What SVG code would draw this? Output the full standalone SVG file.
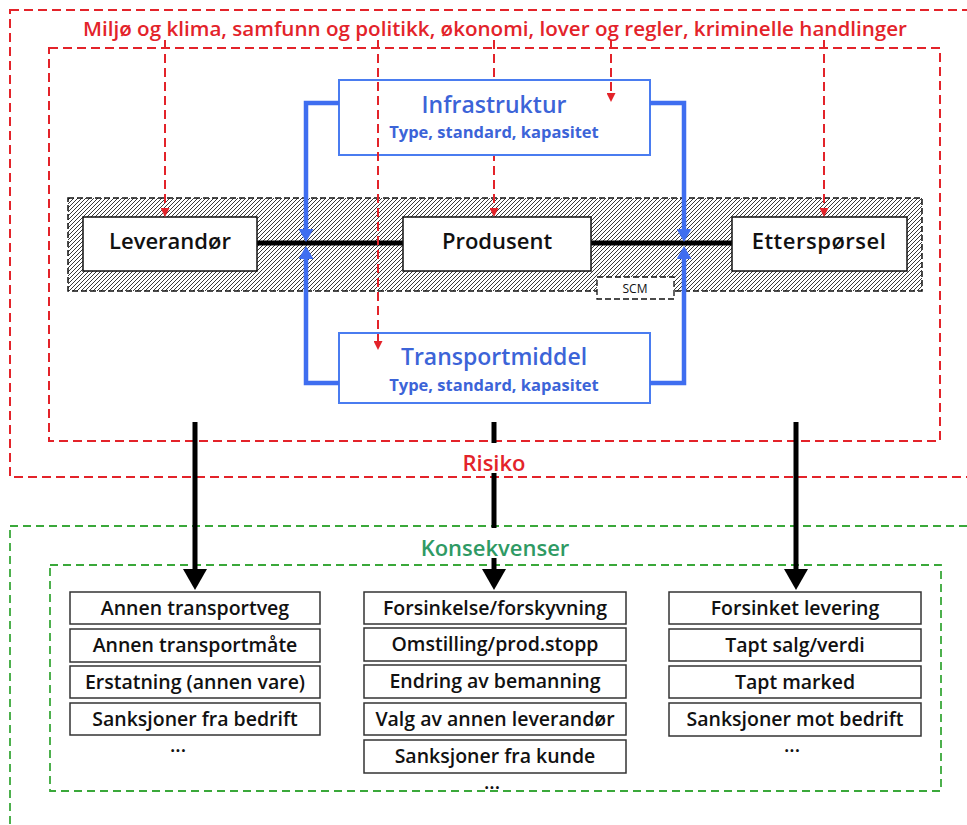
<svg xmlns="http://www.w3.org/2000/svg" width="967" height="825" viewBox="0 0 967 825">
<style>
  .f { font-family: "Open Sans", "Liberation Sans", sans-serif; }
  .reddash { fill: none; stroke: #e3232a; stroke-width: 2; stroke-dasharray: 9 5; }
  .greendash { fill: none; stroke: #3aa83a; stroke-width: 1.8; stroke-dasharray: 8 5; }
  .redarrow { fill: none; stroke: #e3232a; stroke-width: 2; stroke-dasharray: 9 5; marker-end: url(#ra); }
  .blue { fill: none; stroke: #3f6ef0; stroke-width: 4.5; stroke-linejoin: miter; marker-end: url(#ba); }
  .blk { stroke: #000; stroke-width: 5; fill: none; }
  .blkarr { stroke: #000; stroke-width: 5; fill: none; marker-end: url(#ka); }
  .node { fill: #fff; stroke: #111; stroke-width: 1.5; }
  .bbox { fill: #fff; stroke: #4a7cf0; stroke-width: 2; }
  .item { fill: #fff; stroke: #333; stroke-width: 1.5; }
  .nt { font-size: 22px; font-weight: 600; fill: #111; text-anchor: middle; }
  .it { font-size: 19.5px; font-weight: 600; fill: #111; text-anchor: middle; }
  .bt { font-size: 23px; font-weight: 600; fill: #3c64d8; text-anchor: middle; }
  .bs { font-size: 16.5px; font-weight: 700; fill: #3c64d8; text-anchor: middle; }
</style>
<defs>
  <pattern id="hatch" patternUnits="userSpaceOnUse" width="4" height="4">
    <rect width="4" height="4" fill="#fff"/>
    <path d="M-1,1 l2,-2 M0,4 l4,-4 M3,5 l2,-2" stroke="#222" stroke-width="0.9"/>
  </pattern>
  <marker id="ra" markerUnits="userSpaceOnUse" markerWidth="9" markerHeight="9" refX="0" refY="4.5" orient="auto" viewBox="0 0 9 9">
    <path d="M0,0 L9,4.5 L0,9 z" fill="#e3232a"/>
  </marker>
  <marker id="ba" markerUnits="userSpaceOnUse" markerWidth="13" markerHeight="15" refX="0" refY="7.5" orient="auto" viewBox="0 0 13 15">
    <path d="M0,0 L13,7.5 L0,15 z" fill="#3f6ef0"/>
  </marker>
  <marker id="ka" markerUnits="userSpaceOnUse" markerWidth="21" markerHeight="24" refX="0" refY="12" orient="auto" viewBox="0 0 21 24">
    <path d="M0,0 L21,12 L0,24 z" fill="#000"/>
  </marker>
</defs>
<rect width="967" height="825" fill="#fff"/>

<g id="frames">
  <rect class="reddash" x="10" y="10" width="970" height="467"/>
  <rect class="reddash" x="49" y="48" width="891" height="393"/>
  <rect class="greendash" x="10" y="526" width="970" height="310"/>
  <rect class="greendash" x="50" y="565" width="891" height="226"/>
  <rect id="scm-band" x="68" y="198" width="854" height="93" fill="url(#hatch)" stroke="#111" stroke-width="1.5" stroke-dasharray="6 3"/>
</g>

<g id="connectors-under">
  <line class="blk" x1="257" y1="243" x2="403" y2="243" stroke-width="6"/>
  <line class="blk" x1="591" y1="243" x2="732" y2="243" stroke-width="6"/>
  <line class="redarrow" x1="494" y1="40" x2="494" y2="208"/>
</g>

<g id="leverandor">
  <rect class="node" x="83" y="217" width="174" height="54"/>
  <text class="f nt" x="170" y="249">Leverandør</text>
</g>
<g id="produsent">
  <rect class="node" x="403" y="217" width="188" height="54"/>
  <text class="f nt" x="497" y="249">Produsent</text>
</g>
<g id="ettersporsel">
  <rect class="node" x="732" y="217" width="175" height="54"/>
  <text class="f nt" x="819" y="249" letter-spacing="0.5">Etterspørsel</text>
</g>
<g id="scm">
  <rect x="597" y="277" width="77" height="22" fill="#fff" stroke="#111" stroke-width="1.3" stroke-dasharray="6 3"/>
  <text class="f" x="635" y="293" font-size="12" text-anchor="middle" fill="#111">SCM</text>
</g>
<g id="infrastruktur">
  <rect class="bbox" x="339" y="80" width="311" height="75"/>
  <text class="f bt" x="494" y="113">Infrastruktur</text>
  <text class="f bs" x="494" y="138">Type, standard, kapasitet</text>
</g>
<g id="transportmiddel">
  <rect class="bbox" x="339" y="333" width="311" height="70"/>
  <text class="f bt" x="494" y="365">Transportmiddel</text>
  <text class="f bs" x="494" y="391">Type, standard, kapasitet</text>
</g>

<g id="connectors">
  <polyline class="blue" points="339,103 306,103 306,229"/>
  <polyline class="blue" points="650,103 684,103 684,229"/>
  <polyline class="blue" points="339,383 306,383 306,259"/>
  <polyline class="blue" points="650,383 684,383 684,259"/>
  <line class="redarrow" x1="165" y1="40" x2="165" y2="208"/>
  <line class="redarrow" x1="378" y1="40" x2="378" y2="341"/>
  <line class="redarrow" x1="611" y1="40" x2="611" y2="93"/>
  <line class="redarrow" x1="824" y1="40" x2="824" y2="208"/>
  <line class="blkarr" x1="195" y1="422" x2="195" y2="569"/>
  <line class="blk" x1="494" y1="422" x2="494" y2="443"/>
  <line class="blk" x1="494" y1="473" x2="494" y2="528"/>
  <line class="blkarr" x1="494" y1="558" x2="494" y2="569"/>
  <line class="blkarr" x1="796" y1="422" x2="796" y2="569"/>
</g>

<g id="labels">
  <text class="f" x="495" y="36" font-size="20" font-weight="600" fill="#e3232a" text-anchor="middle" textLength="824" lengthAdjust="spacingAndGlyphs">Miljø og klima, samfunn og politikk, økonomi, lover og regler, kriminelle handlinger</text>
  <text class="f" x="494" y="471" font-size="22" font-weight="600" fill="#e3232a" text-anchor="middle">Risiko</text>
  <text class="f" x="495" y="556" font-size="22" font-weight="600" fill="#2f9a64" text-anchor="middle">Konsekvenser</text>
</g>

<g id="col1">
  <g id="c1-1"><rect class="item" x="70" y="592" width="250" height="32"/><text class="f it" x="195" y="615">Annen transportveg</text></g>
  <g id="c1-2"><rect class="item" x="70" y="629" width="250" height="33"/><text class="f it" x="195" y="652">Annen transportmåte</text></g>
  <g id="c1-3"><rect class="item" x="70" y="666" width="250" height="32"/><text class="f it" x="195" y="689">Erstatning (annen vare)</text></g>
  <g id="c1-4"><rect class="item" x="70" y="703" width="250" height="32"/><text class="f it" x="195" y="726">Sanksjoner fra bedrift</text></g>
  <text class="f it" x="178" y="752">...</text>
</g>
<g id="col2">
  <g id="c2-1"><rect class="item" x="364" y="592" width="262" height="32"/><text class="f it" x="495" y="615">Forsinkelse/forskyvning</text></g>
  <g id="c2-2"><rect class="item" x="364" y="628" width="262" height="33"/><text class="f it" x="495" y="651">Omstilling/prod.stopp</text></g>
  <g id="c2-3"><rect class="item" x="364" y="665" width="262" height="33"/><text class="f it" x="495" y="688">Endring av bemanning</text></g>
  <g id="c2-4"><rect class="item" x="364" y="703" width="262" height="32"/><text class="f it" x="495" y="726">Valg av annen leverandør</text></g>
  <g id="c2-5"><rect class="item" x="364" y="740" width="262" height="33"/><text class="f it" x="495" y="763">Sanksjoner fra kunde</text></g>
  <text class="f it" x="492" y="789">...</text>
</g>
<g id="col3">
  <g id="c3-1"><rect class="item" x="669" y="592" width="252" height="32"/><text class="f it" x="795" y="615">Forsinket levering</text></g>
  <g id="c3-2"><rect class="item" x="669" y="629" width="252" height="32"/><text class="f it" x="795" y="652">Tapt salg/verdi</text></g>
  <g id="c3-3"><rect class="item" x="669" y="666" width="252" height="32"/><text class="f it" x="795" y="689">Tapt marked</text></g>
  <g id="c3-4"><rect class="item" x="669" y="703" width="252" height="33"/><text class="f it" x="795" y="726">Sanksjoner mot bedrift</text></g>
  <text class="f it" x="792" y="752">...</text>
</g>
</svg>
